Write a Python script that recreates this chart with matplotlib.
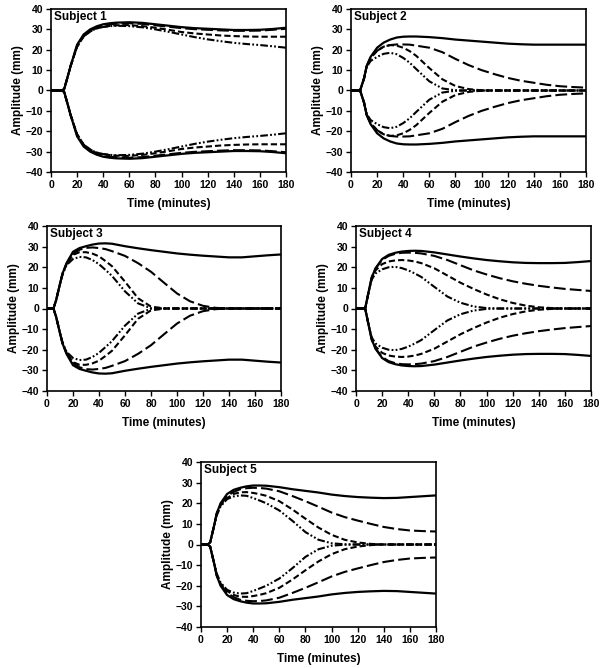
import matplotlib
matplotlib.use("Agg")
import matplotlib.pyplot as plt

plt.rcParams['font.family'] = ['Liberation Sans', 'DejaVu Sans']
plt.rcParams['font.weight'] = 'bold'
plt.rcParams['lines.scale_dashes'] = False

# Time grid (minutes)
time_min = [0, 5, 7, 10, 12, 15, 20, 25, 30, 35, 40, 45, 50, 60, 70, 80, 90, 100,
            110, 120, 130, 140, 150, 160, 170, 180]

subject_names = ["Subject 1", "Subject 2", "Subject 3", "Subject 4", "Subject 5"]

# Upper-half amplitudes (mm); lower half is the mirror image
s1_solid = [0, 0, 0, 0.5, 5, 12, 22.5, 27.5, 30, 31.5, 32.5, 33, 33.3, 33.5, 33.2, 32.5, 31.8, 31.1, 30.6, 30.3, 30, 29.7, 29.7, 29.8, 30.2, 30.8]
s1_long = [0, 0, 0, 0.5, 5, 12, 22, 27, 29.5, 31, 32, 32.5, 32.8, 33, 32.7, 32, 31.3, 30.6, 30.1, 29.8, 29.5, 29.3, 29.3, 29.4, 29.8, 30.3]
s1_dash = [0, 0, 0, 0.5, 5, 12, 21.5, 26.5, 29, 30.5, 31.2, 31.7, 32, 32.1, 31.6, 30.8, 29.8, 28.7, 28, 27.5, 27, 26.7, 26.5, 26.4, 26.4, 26.4]
s1_dd = [0, 0, 0, 0.5, 5, 12, 21.5, 26.5, 29, 30.5, 31.2, 31.6, 31.8, 31.6, 31, 30, 28.8, 27.5, 26.2, 25.1, 24.2, 23.4, 22.8, 22.3, 21.7, 21]

s2_solid = [0, 0, 0, 6, 12, 16.5, 21, 23.5, 25, 26, 26.4, 26.5, 26.5, 26.2, 25.7, 25, 24.5, 24, 23.5, 23, 22.7, 22.5, 22.5, 22.5, 22.5, 22.5]
s2_long = [0, 0, 0, 6, 12, 16, 19.5, 21.5, 22.3, 22.6, 22.6, 22.5, 22, 21, 18.8, 15.5, 12.5, 10, 8, 6.2, 4.8, 3.8, 2.8, 2.1, 1.7, 1.4]
s2_dash = [0, 0, 0, 6, 12, 16, 19.5, 21.5, 22.3, 22, 21, 19.3, 17, 11, 5.5, 2.2, 0.7, 0.1, 0, 0, 0, 0, 0, 0, 0, 0]
s2_dd = [0, 0, 0, 6, 11.5, 14.5, 16.5, 18, 18.5, 17.8, 16, 13.6, 10.5, 4.5, 1, 0.1, 0, 0, 0, 0, 0, 0, 0, 0, 0, 0]

s3_solid = [0, 0, 4, 12, 17, 22, 27.5, 29.3, 30.2, 31, 31.5, 31.6, 31.4, 30.2, 29.2, 28.3, 27.5, 26.7, 26.1, 25.6, 25.2, 24.8, 24.8, 25.3, 25.8, 26.2]
s3_long = [0, 0, 4, 12, 17, 21.5, 26.5, 28.5, 29.4, 29.6, 29.3, 28.8, 27.8, 25.5, 22, 17.8, 12.5, 7.3, 3.5, 1.3, 0.3, 0, 0, 0, 0, 0]
s3_dash = [0, 0, 4, 12, 17, 21.5, 26, 27.3, 27.3, 26.6, 25.3, 23, 20.5, 13, 5, 0.9, 0.1, 0, 0, 0, 0, 0, 0, 0, 0, 0]
s3_dd = [0, 0, 4, 12, 16.5, 21, 24, 25, 24.8, 23.5, 21.5, 18.7, 15.8, 8.3, 2.5, 0.1, 0, 0, 0, 0, 0, 0, 0, 0, 0, 0]

s4_solid = [0, 0, 0, 9, 15, 19.5, 24, 26, 27, 27.6, 27.9, 28, 27.9, 27.2, 26.2, 25.2, 24.3, 23.5, 22.9, 22.4, 22.1, 22, 22, 22.1, 22.5, 23]
s4_long = [0, 0, 0, 9, 15, 19.5, 23.5, 25.5, 26.5, 27, 27.1, 27, 26.7, 25.5, 23.5, 21, 18.5, 16.5, 14.7, 13.2, 12, 11, 10.2, 9.5, 9, 8.5]
s4_dash = [0, 0, 0, 9, 14.5, 18.5, 21.5, 22.8, 23.3, 23.5, 23.3, 22.8, 22, 19.5, 16, 12.5, 9.5, 6.8, 4.5, 2.7, 1.4, 0.6, 0.2, 0, 0, 0]
s4_dd = [0, 0, 0, 9, 14, 17, 19, 20, 20.2, 19.6, 18.5, 17, 15.3, 10.5, 5.8, 2.8, 1, 0.2, 0, 0, 0, 0, 0, 0, 0, 0]

s5_solid = [0, 0, 1, 9, 15, 20, 24.5, 26.5, 27.5, 28.2, 28.6, 28.6, 28.5, 27.8, 26.8, 26, 25.2, 24.2, 23.5, 23, 22.7, 22.5, 22.6, 23, 23.4, 23.8]
s5_long = [0, 0, 1, 9, 15, 19.5, 23.5, 25.5, 26.8, 27.3, 27.5, 27.4, 27.1, 25.8, 23.5, 21, 18.3, 15.5, 13.3, 11.6, 10, 8.5, 7.5, 6.8, 6.5, 6.3]
s5_dash = [0, 0, 1, 9, 14.5, 19, 22.5, 24.5, 25.3, 25.4, 25, 24.4, 23.6, 21, 17, 12.5, 8.2, 4.7, 2.3, 1, 0.3, 0, 0, 0, 0, 0]
s5_dd = [0, 0, 1, 9, 14, 18.5, 22, 23.3, 23.8, 23.6, 22.5, 21.3, 20, 16.5, 11.5, 6, 2.3, 0.6, 0.1, 0, 0, 0, 0, 0, 0, 0]

subjects = [
    (s1_solid, s1_long, s1_dash, s1_dd),
    (s2_solid, s2_long, s2_dash, s2_dd),
    (s3_solid, s3_long, s3_dash, s3_dd),
    (s4_solid, s4_long, s4_dash, s4_dd),
    (s5_solid, s5_long, s5_dash, s5_dd),
]

x_ticks = [0, 20, 40, 60, 80, 100, 120, 140, 160, 180]
y_ticks = [-40, -30, -20, -10, 0, 10, 20, 30, 40]

styles = [
    dict(linestyle='-', lw=1.6),
    dict(dashes=(8.5, 3.0), lw=1.5),
    dict(dashes=(4.5, 2.2), lw=1.5),
    dict(dashes=(5.5, 1.6, 1.3, 1.6, 1.3, 1.6), lw=1.5),
]

W, H = 600, 668
boxes = [
    (51, 9, 235, 163),
    (351, 9, 235, 163),
    (47, 226, 234, 165),
    (356, 226, 235, 165),
    (201, 462, 235, 165),
]

fig = plt.figure(figsize=(6.0, 6.68), dpi=100)
for (x0, y0, w, h), name, curves in zip(boxes, subject_names, subjects):
    ax = fig.add_axes([x0 / W, 1 - (y0 + h) / H, w / W, h / H])
    for vals, st in zip(curves, styles):
        neg = [-v for v in vals]
        for yy in (vals, neg):
            ax.plot(time_min, yy, color='black', solid_capstyle='butt',
                    dash_capstyle='butt', **st)
    ax.set_xlim(0, 180)
    ax.set_ylim(-40, 40)
    ax.set_xticks(x_ticks)
    ax.set_yticks(y_ticks)
    ax.tick_params(direction='out', length=3.5, width=1, labelsize=7.5, pad=2)
    for lab in ax.get_xticklabels() + ax.get_yticklabels():
        lab.set_fontweight('bold')
    for sp in ax.spines.values():
        sp.set_linewidth(1.2)
    ax.set_xlabel("Time (minutes)", fontsize=8.5, fontweight='bold', labelpad=6)
    ax.set_ylabel("Amplitude (mm)", fontsize=8.5, fontweight='bold', labelpad=1)
    ax.text(0.012, 0.99, name, transform=ax.transAxes, ha='left', va='top',
            fontsize=8.5, fontweight='bold')

fig.savefig("out.png", dpi=100)
